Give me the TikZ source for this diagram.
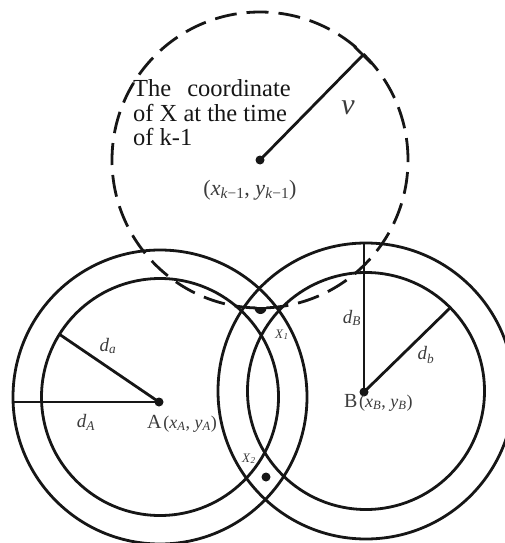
\documentclass[tikz,border=0pt]{standalone}
\usepackage{fontspec}
\setmainfont{Liberation Serif}
\usetikzlibrary{arrows.meta}
\definecolor{ink}{HTML}{161616}
\definecolor{labgray}{HTML}{3C3C3C}
\newcommand{\fs}[1]{\fontsize{#1}{#1}\selectfont}
\newcommand{\ivar}[2]{\textit{#1}\textsubscript{\textit{#2}}}
\tikzset{
  ring/.style={draw=ink, line width=2.8pt},
  dashring/.style={draw=ink, line width=2.8pt, dash pattern=on 22pt off 10pt},
  radius line/.style={draw=ink, line width=2.8pt},
  dotnode/.style={circle, fill=ink, inner sep=0pt, minimum size=9pt},
  lab/.style={text=labgray, inner sep=0pt},
  dlab/.style={lab, font=\fs{19}},
}
\begin{document}
\begin{tikzpicture}[x=1pt,y=-1pt]
\useasboundingbox (0,0) rectangle (505,543);
% circle centres
\coordinate (cA) at (160,397);
\coordinate (cB) at (366,391);
% rings
\draw[ring] (cA) circle[radius=147pt];
\draw[ring] (cA) circle[radius=118.5pt];
\draw[ring] (cB) circle[radius=148pt];
\draw[ring] (cB) circle[radius=118.5pt];
\draw[dashring] (260,160) circle[radius=148pt];
% centre dots
\node[dotnode] (pK) at (260,160) {};
\node[dotnode] (pA) at (159,402) {};
\node[dotnode] (pB) at (364,392) {};
\node[dotnode] (pX2) at (266,477) {};
% radius end points
\coordinate (vEnd) at (364,54);
\coordinate (aEnd) at (59,334);
\coordinate (AEnd) at (12,402);
\coordinate (bEnd) at (450,308);
\coordinate (BEnd) at (364,243);
% radii
\draw[radius line, -{Bar[width=24pt]}] (pK.center) -- (vEnd);
\draw[radius line] (pA.center) -- (aEnd);
\draw[radius line] (pA.center) -- (AEnd);
\draw[radius line] (pB.center) -- (bEnd);
\draw[radius line] (pB.center) -- (BEnd);
% X1 marker
\coordinate (barL) at (248,308);
\coordinate (barR) at (271,308);
\draw[ink, line width=2.8pt] (barL) -- (barR);
\fill[ink] (254.5,308) arc[start angle=180, end angle=360, radius=6pt];
% texts
\node[anchor=north west, inner sep=0pt, align=left, text=ink, font=\fs{24.5}] (txt) at (133,79.5)
  {\fontsize{24.5}{30}\selectfont The\hspace{16pt}coordinate\\of X at the time\\of k-1};
\node[lab, font=\fs{30}] (lv) at (348,108) {\textit{v}};
\node[lab, font=\fs{22}] (lk) at (250,190) {(\textit{x}\textsubscript{\textit{k}−1}, \textit{y}\textsubscript{\textit{k}−1})};
\node[dlab] (lda) at (108,346) {\ivar{d}{a}};
\node[dlab] (ldA) at (86,422) {\ivar{d}{A}};
\node[dlab] (ldB) at (352,318) {\ivar{d}{B}};
\node[dlab] (ldb) at (426,355) {\ivar{d}{b}};
\node[lab, anchor=base west] (lA) at (147,428) {{\fs{20}A}\,{\fs{18}(\ivar{x}{A}, \ivar{y}{A})}};
\node[lab, anchor=base west] (lB) at (344,407) {{\fs{20}B}\,{\fs{18}(\ivar{x}{B}, \ivar{y}{B})}};
\node[lab, anchor=base west, font=\fs{13}] (lX1) at (275,338) {\ivar{X}{1}};
\node[lab, anchor=base west, font=\fs{13}] (lX2) at (242,462) {\ivar{X}{2}};
\end{tikzpicture}
\end{document}
